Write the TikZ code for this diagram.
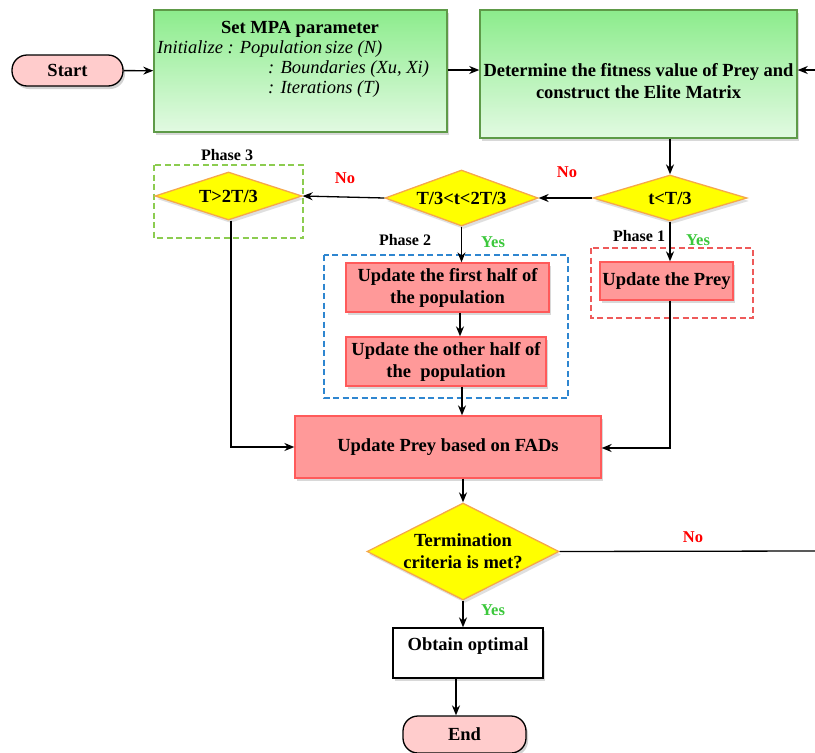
\documentclass[tikz,border=0pt]{standalone}
\usepackage{fontspec}
\setmainfont{Liberation Serif}
\usetikzlibrary{shapes.geometric,arrows.meta,shadows}

\definecolor{termfill}{HTML}{FFCCCC}
\definecolor{greentop}{HTML}{8CEC8C}
\definecolor{greenbot}{HTML}{E2FAE2}
\definecolor{greenline}{HTML}{5E9A48}
\definecolor{redfill}{HTML}{FF9999}
\definecolor{redline}{HTML}{FF5A5A}
\definecolor{decfill}{HTML}{FFFF00}
\definecolor{decline}{HTML}{F5A84A}
\definecolor{yescol}{HTML}{3CC83C}
\definecolor{nocol}{HTML}{FF0000}
\definecolor{ph3line}{HTML}{8CCC50}
\definecolor{ph2line}{HTML}{2E86D0}
\definecolor{ph1line}{HTML}{EE5A5A}

\tikzset{
  basefont/.style={font=\fontsize{18.5}{22}\selectfont\bfseries},
  terminal/.style={basefont, draw=black, line width=1.3pt, fill=termfill,
    rounded corners=15pt, inner sep=0pt,
    drop shadow={shadow xshift=2pt, shadow yshift=-3pt, opacity=0.35}},
  greenbox/.style={draw=greenline, line width=1.5pt, top color=greentop,
    bottom color=greenbot, inner sep=0pt,
    drop shadow={shadow xshift=2pt, shadow yshift=-3pt, opacity=0.3}},
  redbox/.style={basefont, draw=redline, line width=1.3pt, fill=redfill,
    inner sep=0pt, align=center,
    drop shadow={shadow xshift=2pt, shadow yshift=-3pt, opacity=0.3}},
  decision/.style={basefont, diamond, draw=decline, line width=1.3pt,
    fill=decfill, inner sep=0pt, align=center,
    drop shadow={shadow xshift=2pt, shadow yshift=-3pt, opacity=0.25}},
  plainbox/.style={draw=black, line width=1.3pt, fill=white, inner sep=0pt,
    drop shadow={shadow xshift=2pt, shadow yshift=-3pt, opacity=0.3}},
  phasebox/.style={dashed, dash pattern=on 6pt off 3.5pt, line width=1.3pt},
  arr/.style={-{Stealth[length=10pt,width=8pt]}, line width=1.3pt},
  conn/.style={line width=1.3pt},
  phaselabel/.style={font=\fontsize{16}{18}\selectfont\bfseries},
  yeslabel/.style={font=\fontsize{16.5}{18}\selectfont\bfseries, text=yescol},
  nolabel/.style={font=\fontsize{16.5}{18}\selectfont\bfseries, text=nocol},
  itext/.style={font=\fontsize{18.5}{20}\selectfont\itshape, inner sep=0pt},
}

\begin{document}
\begin{tikzpicture}[x=1pt, y=-1pt]
  \useasboundingbox (0,0) rectangle (815,753);
  \clip (0,0) rectangle (815,753);
  \fill[white] (0,0) rectangle (815,753);

  % phase frames
  \draw[phasebox, draw=ph3line] (154,165) rectangle (303,238);
  \draw[phasebox, draw=ph2line] (324,255) rectangle (568,398);
  \draw[phasebox, draw=ph1line] (591,248) rectangle (753,318);

  % start and parameter set-up
  \node[terminal, minimum width=111pt, minimum height=31pt] (start) at (67.5,70.5) {Start};
  \node[greenbox, minimum width=293pt, minimum height=122pt] (mpa) at (300.5,71) {};
  \node[basefont, inner sep=0pt] (mpatitle) at (300,29) {Set MPA parameter};
  \node[itext, anchor=west] (init) at (157,49) {Initialize : Population\,size (N)};
  \node[itext, anchor=west] (bound) at (268,69) {: Boundaries (Xu, Xi)};
  \node[itext, anchor=west] (iter) at (268,89) {: Iterations (T)};

  \node[greenbox, minimum width=317pt, minimum height=128pt] (fit) at (638.5,74) {};
  \node[basefont, align=center, inner sep=0pt] (fittext) at (638.5,81)
    {Determine the fitness value of Prey and\\construct the Elite Matrix};
  \coordinate (loopin) at (815,70);
  \coordinate (loopout) at (815,551);

  % decisions
  \node[decision, aspect=3.2, minimum width=154pt, minimum height=46pt] (d1) at (670,198) {t<T/3};
  \node[decision, aspect=2.9, minimum width=153pt, minimum height=56pt] (d2) at (461.5,198) {T/3<t<2T/3};
  \node[decision, aspect=3.1, minimum width=147pt, minimum height=48pt] (d3) at (228.5,196) {T>2T/3};

  % update steps
  \node[redbox, minimum width=133pt, minimum height=38pt] (prey) at (666.5,281) {Update the Prey};
  \node[redbox, minimum width=203pt, minimum height=49pt] (first) at (447.5,287.5)
    {Update the first half of\\the population};
  \node[redbox, minimum width=200pt, minimum height=49pt] (other) at (446,361.5)
    {Update the other half of\\the\ \ population};
  \node[redbox, minimum width=306pt, minimum height=62pt] (fads) at (448,447) {Update Prey based on FADs};

  \node[decision, aspect=2.0, minimum width=192pt, minimum height=97pt] (term) at (463,551.5)
    {Termination\\criteria is met?};
  \node[plainbox, minimum width=150pt, minimum height=50pt] (opt) at (468,653) {};
  \node[basefont, inner sep=0pt] (opttext) at (468,646) {Obtain optimal};
  \node[terminal, minimum width=123pt, minimum height=37pt] (end) at (464.5,734.5) {End};

  % phase labels
  \node[phaselabel] (p3) at (227,155) {Phase 3};
  \node[phaselabel] (p2) at (405,240) {Phase 2};
  \node[phaselabel] (p1) at (639,236) {Phase 1};

  % branch labels
  \node[nolabel] (no1) at (567,172) {No};
  \node[nolabel] (no2) at (345,178) {No};
  \node[nolabel] (no3) at (693,537) {No};
  \node[yeslabel] (yes1) at (698,240) {Yes};
  \node[yeslabel] (yes2) at (493,242) {Yes};
  \node[yeslabel] (yes3) at (493,610) {Yes};

  % connectors
  \draw[arr] (start) -- (mpa);
  \draw[arr] (mpa.east |- 0,70) -- (fit.west |- 0,70);
  \draw[arr] (loopin) -- (fit.east |- loopin);
  \draw[arr] (fit.south -| d1.north) -- (d1.north);
  \draw[arr] (d1.west) -- (d2.east);
  \draw[arr] (d2.west) -- (d3.east);
  \draw[arr] (d1.south) -- (d1.south |- prey.north);
  \draw[arr] (d2.south) -- (d2.south |- first.north);
  \draw[arr] (first.south -| 460,0) -- (other.north -| 460,0);
  \draw[arr] (other.south -| 462,0) -- (fads.north -| 462,0);
  \draw[arr] (prey.south -| d1.south) |- (fads.east |- 0,448);
  \draw[arr] (d3.south -| 231,0) |- (fads.west |- 0,447);
  \draw[arr] (fads.south -| term.north) -- (term.north);
  \draw[conn] (term.east) -- (loopout);
  \draw[arr] (term.south) -- (term.south |- opt.north);
  \draw[arr] (opt.south -| 456,0) -- (end.north -| 456,0);
\end{tikzpicture}
\end{document}
